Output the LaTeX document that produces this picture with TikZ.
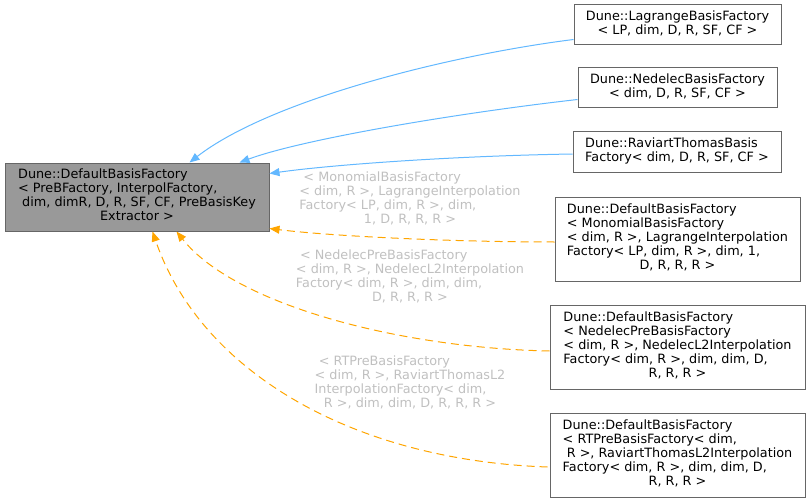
\documentclass[tikz,border=0pt]{standalone}
\usepackage{fontspec}
\setmainfont{DejaVu Sans}
\usetikzlibrary{arrows.meta,calc}
\definecolor{inhblue}{HTML}{63B8FF}
\definecolor{tplorange}{HTML}{FFA500}
\definecolor{basefill}{HTML}{999999}
\definecolor{boxline}{HTML}{666666}
\definecolor{lblgrey}{HTML}{C0C0C0}

\begin{document}
\begin{tikzpicture}[
  x=0.75pt, y=-0.75pt,
  font=\fontsize{9.6}{10.5}\selectfont,
  cls/.style={draw=boxline, line width=0.75pt, fill=white, inner sep=0pt,
              minimum height=30pt},
  tall/.style={cls, minimum height=63pt},
  basecls/.style={cls, fill=basefill, minimum width=198pt, minimum height=51pt},
  inh/.style={-{Triangle[length=7.5pt,width=6pt]}, inhblue, line width=0.75pt},
  tpl/.style={-{Triangle[length=7.5pt,width=6pt]}, tplorange, line width=0.75pt,
              dash pattern=on 6pt off 3.75pt},
  lbl/.style={text=lblgrey, inner sep=0pt},
]
\def\lines#1{\begin{tabular}{@{}l@{}}#1\end{tabular}}
\def\lastl#1{\multicolumn{1}{@{}c@{}}{#1}}
\useasboundingbox (0,0) rectangle (811,503);

% ---------------- base class ---------------------------------------
\node[basecls] (base) at (137,197)
  {\lines{Dune::DefaultBasisFactory\\< PreBFactory, InterpolFactory,\\
   \ dim, dimR, D, R, SF, CF, PreBasisKey\\\lastl{Extractor >}}};

% ---------------- derived classes ----------------------------------
\node[cls, minimum width=155.25pt] (lag) at (677.5,25)
  {\lines{Dune::LagrangeBasisFactory\\\lastl{< LP, dim, D, R, SF, CF >}}};
\node[cls, minimum width=149.25pt] (ned) at (677.5,88)
  {\lines{Dune::NedelecBasisFactory\\\lastl{< dim, D, R, SF, CF >}}};
\node[cls, minimum width=156pt] (rt) at (677,152)
  {\lines{Dune::RaviartThomasBasis\\\lastl{Factory< dim, D, R, SF, CF >}}};

% ---------------- template instances -------------------------------
\node[tall, minimum width=183.75pt] (dmon) at (677.5,239)
  {\lines{Dune::DefaultBasisFactory\\< MonomialBasisFactory\\
   < dim, R >, LagrangeInterpolation\\Factory< LP, dim, R >, dim, 1,\\
   \lastl{D, R, R, R >}}};
\node[tall, minimum width=191.25pt] (dned) at (677.5,347)
  {\lines{Dune::DefaultBasisFactory\\< NedelecPreBasisFactory\\
   < dim, R >, NedelecL2Interpolation\\Factory< dim, R >, dim, dim, D,\\
   \lastl{R, R, R >}}};
\node[tall, minimum width=191.25pt] (drt) at (677.5,455)
  {\lines{Dune::DefaultBasisFactory\\< RTPreBasisFactory< dim,\\
   \ R >, RaviartThomasL2Interpolation\\Factory< dim, R >, dim, dim, D,\\
   \lastl{R, R, R >}}};

% ---------------- inheritance --------------------------------------
\draw[inh] ($(lag.south west)+(0,-6)$) .. controls (450,55) and (270,100)
  .. ($(base.north west)+(185,0)$);
\draw[inh] ($(ned.south west)+(0,-9)$) .. controls (450,114) and (300,140)
  .. ($(base.north west)+(235,0)$);
\draw[inh] ($(rt.west)+(0,2)$) .. controls (450,156) and (330,165)
  .. ($(base.north east)+(0,11)$);

% ---------------- template arguments -------------------------------
\draw[tpl] ($(dmon.west)+(0,3)$) .. controls (450,242) and (330,236)
  .. ($(base.south east)+(0,-3)$);
\draw[tpl] ($(dned.west)+(0,4)$) .. controls (400,348) and (235,305)
  .. ($(base.south west)+(172,0)$);
\draw[tpl] ($(drt.west)+(-2,12)$) .. controls (350,460) and (200,370)
  .. ($(base.south west)+(148,0)$);

\node[lbl] (lmon) at (410,200)
  {\lines{\ < MonomialBasisFactory\\< dim, R >, LagrangeInterpolation\\
   Factory< LP, dim, R >, dim,\\\lastl{1, D, R, R, R >}}};
\node[lbl] (lned) at (410,278)
  {\lines{\ < NedelecPreBasisFactory\\< dim, R >, NedelecL2Interpolation\\
   Factory< dim, R >, dim, dim,\\\lastl{D, R, R, R >}}};
\node[lbl] (lrt) at (410,384)
  {\lines{\ < RTPreBasisFactory\\< dim, R >, RaviartThomasL2\\
   InterpolationFactory< dim,\\\lastl{R >, dim, dim, D, R, R, R >}}};

\end{tikzpicture}
\end{document}
